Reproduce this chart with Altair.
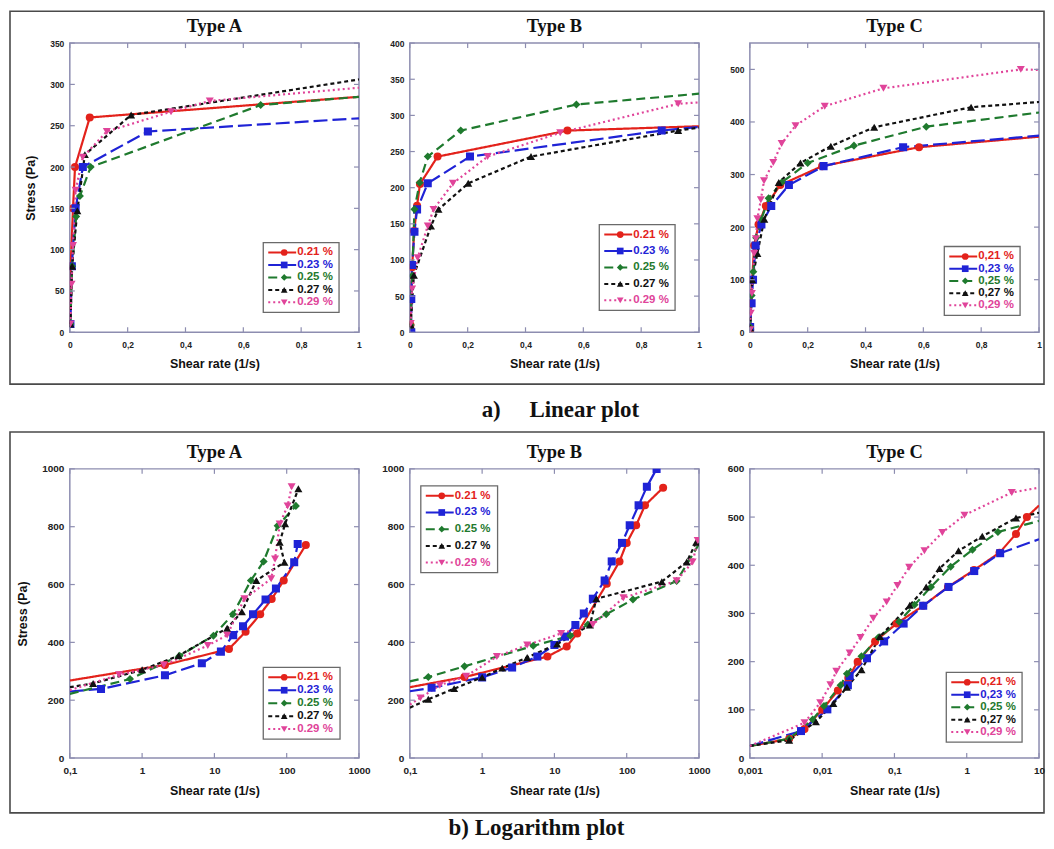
import math
import altair as alt
import pandas as pd

# ---------------- data ----------------
SERIES = ["0.21 %", "0.23 %", "0.25 %", "0.27 %", "0.29 %"]
LABELS_DOT = ["0.21 %", "0.23 %", "0.25 %", "0.27 %", "0.29 %"]
LABELS_COMMA = ["0,21 %", "0,23 %", "0,25 %", "0,27 %", "0,29 %"]
COLORS = ["#e3221b", "#1f23d6", "#1f7a2e", "#111111", "#e0449a"]
SHAPES = ["circle", "square", "diamond", "triangle-up", "triangle-down"]
DASHES = [[1, 0], [14, 5], [9, 5], [4, 3], [2, 3]]
SIZES = [65, 65, 45, 55, 60]

LIN_TICKS_X = [0, 0.2, 0.4, 0.6, 0.8, 1]
LIN_A_TICKS_Y = [0, 50, 100, 150, 200, 250, 300, 350]
LIN_B_TICKS_Y = [0, 50, 100, 150, 200, 250, 300, 350, 400]
LIN_C_TICKS_Y = [0, 100, 200, 300, 400, 500]
LOG_AB_TICKS_X = [0.1, 1, 10, 100, 1000]
LOG_C_TICKS_X = [0.001, 0.01, 0.1, 1, 10]
LOG_AB_TICKS_Y = [0, 200, 400, 600, 800, 1000]
LOG_C_TICKS_Y = [0, 100, 200, 300, 400, 500, 600]

LIN_A = {
    "0.21 %": ([0.0, 0.003, 0.011, 0.018, 0.069, 1.0], [10, 80, 150, 200, 260, 285]),
    "0.23 %": ([0.002, 0.007, 0.02, 0.045, 0.27, 1.0], [10, 80, 150, 200, 243, 259]),
    "0.25 %": ([0.002, 0.008, 0.022, 0.035, 0.072, 0.66, 1.0], [10, 80, 140, 165, 200, 275, 285]),
    "0.27 %": ([0.002, 0.008, 0.026, 0.052, 0.212, 1.0], [10, 80, 147, 215, 263, 306]),
    "0.29 %": ([0.002, 0.006, 0.011, 0.02, 0.045, 0.128, 0.35, 0.484, 1.0],
               [10, 58, 105, 172, 212, 243, 267, 280, 296]),
}
LIN_B = {
    "0.21 %": ([0.002, 0.008, 0.015, 0.025, 0.035, 0.096, 0.545, 1.0], [10, 90, 140, 175, 205, 243, 279, 285]),
    "0.23 %": ([0.005, 0.005, 0.008, 0.016, 0.025, 0.062, 0.208, 0.871, 1.0], [0, 46, 93, 139, 170, 206, 243, 279, 284]),
    "0.25 %": ([0.003, 0.008, 0.016, 0.034, 0.062, 0.176, 0.576, 1.0], [10, 78, 170, 207, 243, 279, 315, 330]),
    "0.27 %": ([0.003, 0.014, 0.073, 0.099, 0.202, 0.419, 0.928, 1.0], [10, 79, 147, 170, 206, 243, 279, 283]),
    "0.29 %": ([0.003, 0.008, 0.027, 0.062, 0.082, 0.149, 0.269, 0.52, 0.928, 1.0],
               [12, 60, 103, 147, 170, 206, 243, 276, 316, 318]),
}
LIN_C = {
    "0.21 %": ([0.001, 0.004, 0.008, 0.015, 0.03, 0.055, 0.105, 0.25, 0.585, 1.0],
               [5, 55, 100, 165, 205, 240, 280, 316, 352, 372]),
    "0.23 %": ([0.001, 0.006, 0.011, 0.02, 0.04, 0.074, 0.135, 0.255, 0.53, 1.0],
               [10, 55, 100, 165, 205, 240, 280, 316, 352, 374]),
    "0.25 %": ([0.001, 0.006, 0.012, 0.022, 0.04, 0.065, 0.11, 0.2, 0.36, 0.61, 1.0],
               [10, 70, 115, 180, 215, 255, 285, 322, 355, 391, 418]),
    "0.27 %": ([0.001, 0.008, 0.026, 0.05, 0.1, 0.175, 0.28, 0.43, 0.765, 1.0],
               [8, 100, 150, 215, 285, 322, 354, 390, 428, 438]),
    "0.29 %": ([0.001, 0.003, 0.007, 0.015, 0.021, 0.026, 0.038, 0.049, 0.081, 0.11, 0.158, 0.259, 0.462, 0.937, 1.0],
               [5, 36, 74, 150, 178, 216, 252, 288, 323, 359, 393, 430, 464, 500, 499]),
}
LOG_A = {
    "0.21 %": ([0.1, 2.07, 15.9, 27, 43, 62, 91, 184], [268, 322, 377, 437, 497, 550, 614, 737]),
    "0.23 %": ([0.1, 0.27, 2.07, 6.7, 12.3, 18.2, 24.9, 34.2, 51, 71, 127, 142],
               [230, 239, 286, 328, 368, 425, 456, 497, 548, 586, 677, 740]),
    "0.25 %": ([0.1, 0.68, 3.3, 9.7, 18, 32, 48, 75, 134], [222, 273, 354, 423, 497, 614, 680, 803, 872]),
    "0.27 %": ([0.1, 0.21, 1.0, 3.2, 15, 24, 38, 93, 80, 95, 145],
               [245, 258, 305, 354, 449, 506, 614, 677, 746, 810, 931]),
    "0.29 %": ([0.1, 0.48, 2.0, 8.1, 15, 26, 61, 69, 80, 103, 117],
               [235, 288, 322, 389, 425, 551, 620, 688, 809, 872, 938]),
}
LOG_B = {
    "0.21 %": ([0.1, 0.57, 8, 14.8, 20.7, 53, 79.5, 100, 135, 179, 319],
               [245, 280, 351, 386, 431, 603, 680, 744, 805, 874, 935]),
    "0.23 %": ([0.1, 0.2, 1, 2.6, 5.8, 10, 14, 19.5, 25.5, 34, 49.5, 62, 86, 110, 146, 190, 259],
               [231, 243, 279, 313, 351, 391, 420, 460, 500, 551, 614, 680, 744, 805, 874, 938, 1000]),
    "0.25 %": ([0.1, 0.18, 0.57, 5.1, 16.6, 29, 52, 122, 490, 1000],
               [265, 280, 317, 388, 423, 462, 497, 548, 612, 740]),
    "0.27 %": ([0.1, 0.18, 0.41, 1.0, 1.9, 4.2, 10.9, 31, 38, 306, 677, 914],
               [174, 203, 240, 279, 311, 348, 394, 460, 551, 610, 678, 746]),
    "0.29 %": ([0.1, 0.14, 0.26, 0.6, 1.6, 4.2, 12.4, 34, 90, 490, 815, 960],
               [185, 208, 252, 283, 351, 391, 431, 462, 554, 613, 678, 752]),
}
LOG_C = {
    "0.21 %": ([0.001, 0.0035, 0.0057, 0.01, 0.0165, 0.023, 0.031, 0.054, 0.107, 0.25, 0.55, 1.26, 2.84, 4.8, 6.8, 10],
               [25, 40, 60, 100, 140, 166, 200, 242, 279, 316, 355, 390, 426, 465, 500, 524]),
    "0.23 %": ([0.001, 0.0051, 0.0118, 0.0227, 0.024, 0.0417, 0.072, 0.134, 0.25, 0.56, 1.27, 2.9, 10],
               [25, 56, 101, 151, 170, 207, 242, 279, 316, 355, 388, 425, 454]),
    "0.25 %": ([0.001, 0.0035, 0.0074, 0.0106, 0.018, 0.022, 0.035, 0.06, 0.116, 0.19, 0.32, 0.6, 1.2, 2.7, 10],
               [25, 40, 80, 108, 151, 175, 211, 250, 283, 318, 355, 397, 432, 469, 492]),
    "0.27 %": ([0.001, 0.0035, 0.0082, 0.0143, 0.022, 0.035, 0.063, 0.163, 0.275, 0.42, 0.77, 1.64, 4.8, 10],
               [25, 37, 75, 113, 147, 183, 252, 317, 355, 393, 430, 460, 498, 509]),
    "0.29 %": ([0.001, 0.0057, 0.0094, 0.013, 0.0157, 0.024, 0.034, 0.051, 0.078, 0.11, 0.16, 0.26, 0.46, 0.93, 4.2, 10],
               [25, 73, 115, 152, 180, 218, 250, 290, 324, 358, 396, 430, 468, 504, 551, 561]),
}

CAPTION_A = "a)\u00a0\u00a0\u00a0\u00a0\u00a0Linear plot"
CAPTION_B = "b) Logarithm plot"

# ---------------- layout / style ----------------
W, H = 290, 290
FRAME = "#8d8db0"
SANS = "Liberation Sans"
SERIF = "Liberation Serif"
LABEL_EXPR = "replace(format(datum.value, '~g'), '.', ',')"

color_enc = alt.Color("series:N", scale=alt.Scale(domain=SERIES, range=COLORS), legend=None)
shape_enc = alt.Shape("series:N", scale=alt.Scale(domain=SERIES, range=SHAPES), legend=None)
dash_enc = alt.StrokeDash("series:N", scale=alt.Scale(domain=SERIES, range=DASHES), legend=None)
size_enc = alt.Size("series:O", scale=alt.Scale(domain=SERIES, range=SIZES), legend=None)


def to_df(d):
    rows = []
    for s in SERIES:
        xs, ys = d[s]
        for i, (x, y) in enumerate(zip(xs, ys)):
            rows.append({"series": s, "x": x, "y": y, "idx": i})
    return pd.DataFrame(rows)


def text_layer(text, x, y, **style):
    return alt.Chart(pd.DataFrame({"t": [text]})).mark_text(**style).encode(
        text="t:N", x=alt.value(x), y=alt.value(y))


def make_panel(d, title, xtype, xdom, ydom, xticks, yticks, leg_box, labels,
               ytitle, lab_size, extras=()):
    df = to_df(d)
    lo, hi = xdom
    if xtype == "log":
        pts = df[(df.x > lo * 1.0001) & (df.x < hi * 0.9999)]
    else:
        pts = df[df.x < hi - 1e-9]

    if xtype == "log":
        xs = alt.Scale(type="log", domain=[lo, hi], nice=False)
    else:
        xs = alt.Scale(type="linear", domain=[lo, hi], nice=False, zero=False)
    ys = alt.Scale(domain=list(ydom), nice=False, zero=False)

    axis_common = dict(ticks=False, domain=False, grid=False, labelFont=SANS,
                       labelFontWeight="bold", labelFontSize=lab_size, labelColor="#222",
                       labelOverlap=False, labelFlush=False, titleFont=SANS,
                       titleFontWeight="bold", titleFontSize=12.5, titleColor="#111")
    xaxis = alt.Axis(values=xticks, labelExpr=LABEL_EXPR, title="Shear rate (1/s)",
                     orient="bottom", labelPadding=8, titlePadding=9, **axis_common)
    if ytitle:
        yaxis = alt.Axis(values=yticks, format="d", title=ytitle, orient="left",
                         labelPadding=6, titlePadding=12, **axis_common)
    else:
        yaxis = alt.Axis(values=yticks, format="d", title="", orient="left",
                         labelPadding=6, **axis_common)

    lines = alt.Chart(df).mark_line(strokeWidth=2.2, clip=True).encode(
        x=alt.X("x:Q", scale=xs, axis=xaxis),
        y=alt.Y("y:Q", scale=ys, axis=yaxis),
        color=color_enc, strokeDash=dash_enc, order="idx:Q")
    points = alt.Chart(pts).mark_point(filled=True, opacity=1, clip=True).encode(
        x=alt.X("x:Q", scale=xs, axis=None),
        y=alt.Y("y:Q", scale=ys, axis=None),
        color=color_enc, shape=shape_enc, size=size_enc)

    ty = pd.DataFrame({"y": yticks})
    tx = pd.DataFrame({"x": xticks})
    tick_style = dict(color=FRAME, strokeWidth=1.2)
    t_left = alt.Chart(ty).mark_rule(**tick_style).encode(
        y=alt.Y("y:Q", scale=ys, axis=None), x=alt.value(0), x2=alt.value(5))
    t_right = alt.Chart(ty).mark_rule(**tick_style).encode(
        y=alt.Y("y:Q", scale=ys, axis=None), x=alt.value(W - 5), x2=alt.value(W))
    t_top = alt.Chart(tx).mark_rule(**tick_style).encode(
        x=alt.X("x:Q", scale=xs, axis=None), y=alt.value(0), y2=alt.value(5))
    t_bot = alt.Chart(tx).mark_rule(**tick_style).encode(
        x=alt.X("x:Q", scale=xs, axis=None), y=alt.value(H - 5), y2=alt.value(H))

    # legend (pixel box converted to data units through the panel's domains)
    def px2x(p):
        if xtype == "log":
            a, b = math.log10(lo), math.log10(hi)
            return 10 ** (a + p / W * (b - a))
        return lo + p / W * (hi - lo)

    def py2y(p):
        return ydom[1] - p / H * (ydom[1] - ydom[0])

    bx, by, bw, bh = leg_box
    box = pd.DataFrame({"bx0": [px2x(bx)], "bx1": [px2x(bx + bw)],
                        "by0": [py2y(by)], "by1": [py2y(by + bh)]})
    lrows = []
    for i, (s, lab) in enumerate(zip(SERIES, labels)):
        yy = by + 10 + i * (bh - 20) / 4
        lrows.append({"series": s, "label": lab, "x1": px2x(bx + 5), "x2": px2x(bx + 33),
                      "xm": px2x(bx + 21), "xt": px2x(bx + 34), "ly": py2y(yy)})
    ldf = pd.DataFrame(lrows)
    l_box = alt.Chart(box).mark_rect(fill="white", stroke="#6a6a6a", strokeWidth=1.3).encode(
        x=alt.X("bx0:Q", scale=xs, axis=None), x2="bx1:Q",
        y=alt.Y("by0:Q", scale=ys, axis=None), y2="by1:Q")
    l_line = alt.Chart(ldf).mark_rule(strokeWidth=2).encode(
        x=alt.X("x1:Q", scale=xs, axis=None), x2="x2:Q",
        y=alt.Y("ly:Q", scale=ys, axis=None), color=color_enc, strokeDash=dash_enc)
    l_mark = alt.Chart(ldf).mark_point(filled=True, opacity=1, size=45).encode(
        x=alt.X("xm:Q", scale=xs, axis=None), y=alt.Y("ly:Q", scale=ys, axis=None),
        color=color_enc, shape=shape_enc)
    l_text = alt.Chart(ldf).mark_text(align="left", baseline="middle", font=SANS,
                                      fontWeight="bold", fontSize=11.5).encode(
        x=alt.X("xt:Q", scale=xs, axis=None), y=alt.Y("ly:Q", scale=ys, axis=None),
        text="label:N", color=color_enc)

    ttl = text_layer(title, W / 2, -17, font=SERIF, fontSize=18.5, fontWeight="bold",
                     baseline="middle", align="center", color="#111")

    layers = [lines, points, t_left, t_right, t_top, t_bot, l_box, l_line, l_mark, l_text, ttl]
    layers += list(extras)
    return alt.layer(*layers).resolve_axis(x="independent", y="independent").properties(
        width=W, height=H)


one = pd.DataFrame({"k": [0]})


def row_box(y0, y1):
    return alt.Chart(one).mark_rect(fillOpacity=0, stroke="#4a4a4a", strokeWidth=1.6).encode(
        x=alt.value(-60), x2=alt.value(977), y=alt.value(y0), y2=alt.value(y1))


def caption(text, dx, y):
    return text_layer(text, W / 2 + dx, y, font=SERIF, fontSize=23, fontWeight="bold",
                      baseline="middle", align="center", color="#111")


p1 = make_panel(LIN_A, "Type A", "linear", (0, 1), (0, 350), LIN_TICKS_X, LIN_A_TICKS_Y,
                (194, 200, 76, 70), LABELS_DOT, "Stress (Pa)", 8.5, extras=[row_box(-32, 342)])
p2 = make_panel(LIN_B, "Type B", "linear", (0, 1), (0, 400), LIN_TICKS_X, LIN_B_TICKS_Y,
                (190, 182, 76, 86), LABELS_DOT, None, 8.5, extras=[caption(CAPTION_A, 6, 368)])
p3 = make_panel(LIN_C, "Type C", "linear", (0, 1), (0, 550), LIN_TICKS_X, LIN_C_TICKS_Y,
                (195, 204, 76, 69), LABELS_COMMA, None, 8.5)
p4 = make_panel(LOG_A, "Type A", "log", (0.1, 1000), (0, 1000), LOG_AB_TICKS_X, LOG_AB_TICKS_Y,
                (194, 199, 77, 72), LABELS_DOT, "Stress (Pa)", 10, extras=[row_box(-37, 345)])
p5 = make_panel(LOG_B, "Type B", "log", (0.1, 1000), (0, 1000), LOG_AB_TICKS_X, LOG_AB_TICKS_Y,
                (11, 17, 77, 87), LABELS_DOT, None, 10, extras=[caption(CAPTION_B, -18, 360)])
p6 = make_panel(LOG_C, "Type C", "log", (0.001, 10), (0, 600), LOG_C_TICKS_X, LOG_C_TICKS_Y,
                (197, 204, 76, 70), LABELS_COMMA, None, 10)

chart = alt.concat(p1, p2, p3, p4, p5, p6, columns=3,
                   spacing={"row": 137, "column": 51}, bounds="flush").properties(
    padding=0, background="white"
).configure_view(stroke=FRAME, strokeWidth=1.5)

chart.save("out.html", embed_options={"renderer": "svg", "actions": False})
